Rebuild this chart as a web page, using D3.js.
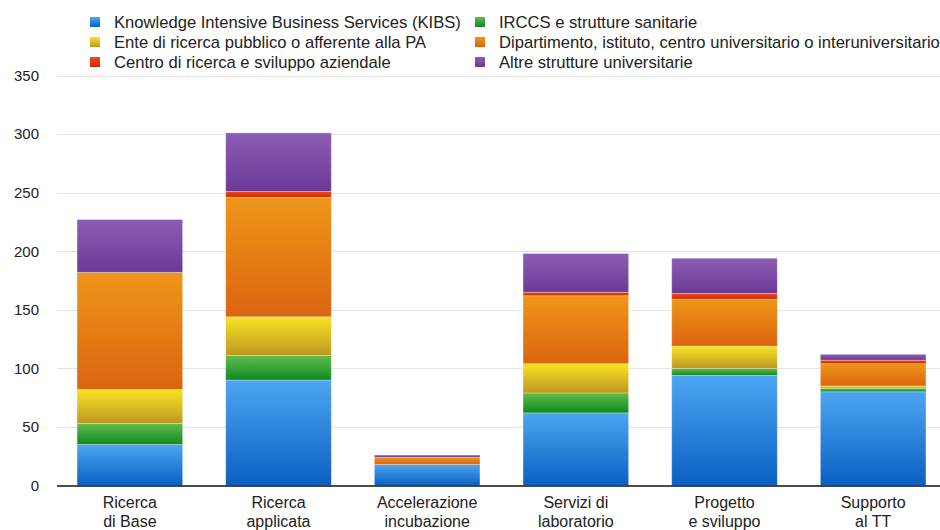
<!DOCTYPE html>
<html lang="it">
<head>
  <meta charset="UTF-8">
  <title>Tipologia di struttura per servizio</title>
  <script src="https://d3js.org/d3.v7.min.js"></script>
  <style>
    html, body {
      margin: 0;
      padding: 0;
      background: #fff;
    }
    svg {
      display: block;
      font-family: 'Liberation Sans', Arial, Helvetica, sans-serif;
    }
    .tick-label {
      font-size: 15px;
      fill: #222;
    }
    .cat-label {
      font-size: 16px;
      fill: #222;
    }
    .legend-label {
      font-size: 16.6px;
      fill: #222;
    }
  </style>
</head>
<body>
  <svg id="chart" width="940" height="530"></svg>

  <script>
    // categories (two-line labels)
    const categories = [
      ["Ricerca", "di Base"],
      ["Ricerca", "applicata"],
      ["Accelerazione", "incubazione"],
      ["Servizi di", "laboratorio"],
      ["Progetto", "e sviluppo"],
      ["Supporto", "al TT"]
    ];

    // series values, bottom to top of each stack
    const kibs         = [35, 90, 18, 62, 94, 80];
    const irccs        = [18, 21, 0, 17, 6, 3];
    const ente         = [29, 33, 0, 25, 19, 2];
    const dipartimento = [100, 102, 6, 58, 40, 19];
    const centro       = [0, 5, 0, 3, 5, 3];
    const altre        = [45, 50, 2, 33, 30, 5];

    const seriesNames = [
      "Knowledge Intensive Business Services (KIBS)",
      "IRCCS e strutture sanitarie",
      "Ente di ricerca pubblico o afferente alla PA",
      "Dipartimento, istituto, centro universitario o interuniversitario",
      "Centro di ricerca e sviluppo aziendale",
      "Altre strutture universitarie"
    ];

    const yTicks = [0, 50, 100, 150, 200, 250, 300, 350];

    // gradient stops (top, bottom) per series
    const colors = [
      ["#4da6f2", "#0a5fc2"],
      ["#62bd4c", "#0e8a22"],
      ["#f7e423", "#bf9722"],
      ["#ee9619", "#dc6410"],
      ["#f04a14", "#cc2a08"],
      ["#8c5db4", "#6b3a98"]
    ];

    const seriesValues = [kibs, irccs, ente, dipartimento, centro, altre];
    const keys = seriesNames.map((d, i) => "s" + i);

    const table = categories.map((c, j) => {
      const row = { cat: c.join(" ") };
      keys.forEach((k, i) => row[k] = seriesValues[i][j]);
      return row;
    });

    const stacked = d3.stack().keys(keys)(table);

    const svg = d3.select("#chart");

    const defs = svg.append("defs");
    colors.forEach((c, i) => {
      const grad = defs.append("linearGradient")
        .attr("id", "grad" + i)
        .attr("x1", 0).attr("y1", 0)
        .attr("x2", 0).attr("y2", 1);
      grad.append("stop").attr("offset", "0%").attr("stop-color", c[0]);
      grad.append("stop").attr("offset", "100%").attr("stop-color", c[1]);
    });

    const x = d3.scaleBand()
      .domain(table.map(d => d.cat))
      .range([57, 946])
      .paddingInner(0.29)
      .paddingOuter(0.135);

    const y = d3.scaleLinear()
      .domain([0, 350])
      .range([485.5, 75.5]);

    // gridlines
    svg.append("g")
      .selectAll("line")
      .data(yTicks.filter(d => d > 0))
      .enter()
      .append("line")
      .attr("x1", 57)
      .attr("x2", 940)
      .attr("y1", d => Math.round(y(d)) + 0.5)
      .attr("y2", d => Math.round(y(d)) + 0.5)
      .attr("stroke", "#e2e2e2")
      .attr("stroke-width", 1);

    // y tick labels
    svg.append("g")
      .selectAll("text")
      .data(yTicks)
      .enter()
      .append("text")
      .attr("class", "tick-label")
      .attr("x", 39)
      .attr("y", d => y(d))
      .attr("dy", "0.36em")
      .attr("text-anchor", "end")
      .text(d => d);

    // bars
    svg.append("g")
      .selectAll("g")
      .data(stacked)
      .enter()
      .append("g")
      .attr("fill", (d, i) => `url(#grad${i})`)
      .selectAll("rect")
      .data(d => d.filter(s => s[1] - s[0] > 0))
      .enter()
      .append("rect")
      .attr("x", d => x(d.data.cat))
      .attr("y", d => y(d[1]))
      .attr("width", x.bandwidth())
      .attr("height", d => y(d[0]) - y(d[1]))
      .attr("stroke", "rgba(255,255,255,0.35)")
      .attr("stroke-width", 0.8);

    // baseline
    svg.append("line")
      .attr("x1", 57)
      .attr("x2", 940)
      .attr("y1", 486)
      .attr("y2", 486)
      .attr("stroke", "#111")
      .attr("stroke-width", 1.6);

    // category labels
    const catG = svg.append("g")
      .selectAll("text")
      .data(categories)
      .enter()
      .append("text")
      .attr("class", "cat-label")
      .attr("text-anchor", "middle")
      .attr("x", (d, i) => x(table[i].cat) + x.bandwidth() / 2);

    catG.append("tspan")
      .attr("x", (d, i) => x(table[i].cat) + x.bandwidth() / 2)
      .attr("y", 508)
      .text(d => d[0]);

    catG.append("tspan")
      .attr("x", (d, i) => x(table[i].cat) + x.bandwidth() / 2)
      .attr("y", 527)
      .text(d => d[1]);

    // legend, two columns filled row by row
    const legend = svg.append("g")
      .selectAll("g")
      .data(seriesNames)
      .enter()
      .append("g")
      .attr("transform", (d, i) => `translate(${i % 2 === 0 ? 90 : 475},${22 + Math.floor(i / 2) * 20})`);

    legend.append("rect")
      .attr("x", 0)
      .attr("y", -5)
      .attr("width", 10)
      .attr("height", 10)
      .attr("fill", (d, i) => `url(#grad${i})`);

    legend.append("text")
      .attr("class", "legend-label")
      .attr("x", 24)
      .attr("y", 0)
      .attr("dy", "0.36em")
      .text(d => d);
  </script>
</body>
</html>
